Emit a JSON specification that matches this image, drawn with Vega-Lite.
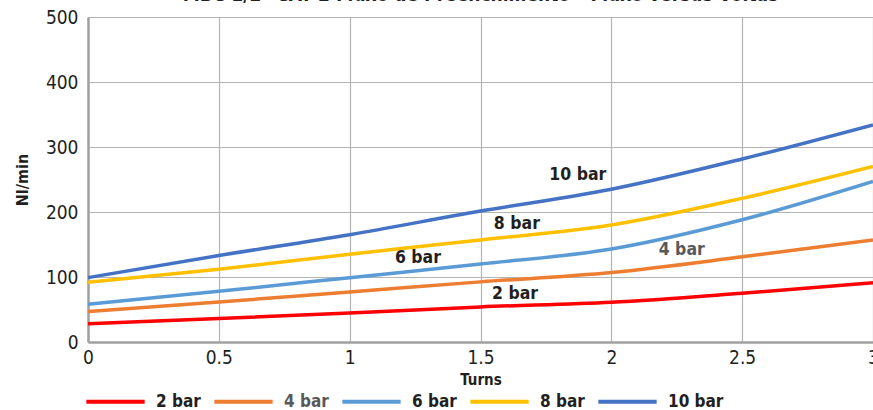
{
  "$schema": "https://vega.github.io/schema/vega-lite/v6.json",
  "width": 785,
  "height": 325,
  "autosize": {"type": "none"},
  "padding": {"left": 88, "top": 17, "right": 0, "bottom": 68},
  "background": "white",
  "title": {
    "text": "MBC 1/2\" CAT 2 Fluxo de Preenchimento – Fluxo versus Voltas",
    "anchor": "middle",
    "frame": "group",
    "baseline": "alphabetic",
    "offset": -12,
    "fontSize": 19,
    "fontWeight": "bold",
    "color": "#231F20"
  },
  "config": {
    "font": "DejaVu Sans Condensed, Roboto",
    "view": {"stroke": null},
    "axis": {
      "domainColor": "#A0A0A0",
      "domainWidth": 2.5,
      "gridColor": "#B4B4B4",
      "gridWidth": 1.2,
      "ticks": false,
      "labelColor": "#231F20",
      "labelFontSize": 19,
      "titleColor": "#231F20",
      "titleFontWeight": "bold"
    }
  },
  "datasets": {
    "curves": [
      {"t": 0, "s": "2 bar", "v": 28}, {"t": 0.5, "s": "2 bar", "v": 36}, {"t": 1, "s": "2 bar", "v": 44.6}, {"t": 1.5, "s": "2 bar", "v": 54}, {"t": 2, "s": "2 bar", "v": 61}, {"t": 2.5, "s": "2 bar", "v": 75}, {"t": 3, "s": "2 bar", "v": 91},
      {"t": 0, "s": "4 bar", "v": 47}, {"t": 0.5, "s": "4 bar", "v": 61.5}, {"t": 1, "s": "4 bar", "v": 77}, {"t": 1.5, "s": "4 bar", "v": 92.5}, {"t": 2, "s": "4 bar", "v": 107}, {"t": 2.5, "s": "4 bar", "v": 131}, {"t": 3, "s": "4 bar", "v": 157},
      {"t": 0, "s": "6 bar", "v": 58}, {"t": 0.5, "s": "6 bar", "v": 78}, {"t": 1, "s": "6 bar", "v": 99}, {"t": 1.5, "s": "6 bar", "v": 120}, {"t": 2, "s": "6 bar", "v": 143}, {"t": 2.5, "s": "6 bar", "v": 188}, {"t": 3, "s": "6 bar", "v": 247},
      {"t": 0, "s": "8 bar", "v": 92}, {"t": 0.5, "s": "8 bar", "v": 112}, {"t": 1, "s": "8 bar", "v": 135}, {"t": 1.5, "s": "8 bar", "v": 157}, {"t": 2, "s": "8 bar", "v": 180}, {"t": 2.5, "s": "8 bar", "v": 221}, {"t": 3, "s": "8 bar", "v": 270},
      {"t": 0, "s": "10 bar", "v": 99}, {"t": 0.5, "s": "10 bar", "v": 133}, {"t": 1, "s": "10 bar", "v": 165}, {"t": 1.5, "s": "10 bar", "v": 201.5}, {"t": 2, "s": "10 bar", "v": 235}, {"t": 2.5, "s": "10 bar", "v": 281.5}, {"t": 3, "s": "10 bar", "v": 334}
    ],
    "labels": [
      {"t": 1.872, "v": 257, "s": "10 bar", "c": "#231F20"},
      {"t": 1.639, "v": 181.5, "s": "8 bar", "c": "#231F20"},
      {"t": 1.261, "v": 129.7, "s": "6 bar", "c": "#231F20"},
      {"t": 2.269, "v": 141.5, "s": "4 bar", "c": "#595959"},
      {"t": 1.632, "v": 73.3, "s": "2 bar", "c": "#231F20"}
    ]
  },
  "layer": [
    {
      "data": {"name": "curves"},
      "mark": {"type": "line", "interpolate": "monotone", "strokeWidth": 3.5},
      "encoding": {
        "x": {
          "field": "t", "type": "quantitative",
          "scale": {"domain": [0, 3], "nice": false},
          "axis": {"values": [0, 0.5, 1, 1.5, 2, 2.5, 3], "format": "~g", "title": "Turns", "titleFontSize": 15, "labelPadding": 6, "titlePadding": 5, "labelFlush": false, "labelBound": false}
        },
        "y": {
          "field": "v", "type": "quantitative",
          "scale": {"domain": [0, 500], "nice": false},
          "axis": {"values": [0, 100, 200, 300, 400, 500], "title": "Nl/min", "titleFontSize": 16, "labelPadding": 10, "titlePadding": 15, "labelFlush": false}
        },
        "color": {
          "field": "s", "type": "nominal",
          "scale": {"domain": ["2 bar", "4 bar", "6 bar", "8 bar", "10 bar"], "range": ["#FF0000", "#ED7D31", "#5B9BD5", "#FFC000", "#4472C4"]},
          "legend": {
            "title": null,
            "orient": "none",
            "direction": "horizontal",
            "legendX": -4,
            "legendY": 353,
            "gridAlign": "all",
            "symbolType": "stroke",
            "symbolSize": 3400,
            "symbolStrokeWidth": 4,
            "labelFontSize": 17,
            "labelFontWeight": "bold",
            "labelOffset": 9,
            "columnPadding": -11,
            "encode": {"labels": {"update": {"fill": {"signal": "datum.label === '4 bar' ? '#595959' : '#231F20'"}}}}
          }
        }
      }
    },
    {
      "data": {"name": "labels"},
      "mark": {"type": "text", "fontSize": 17.5, "fontWeight": "bold", "align": "center", "baseline": "middle"},
      "encoding": {
        "x": {"field": "t", "type": "quantitative"},
        "y": {"field": "v", "type": "quantitative"},
        "text": {"field": "s"},
        "color": {"field": "c", "type": "nominal", "scale": null, "legend": null}
      }
    }
  ]
}
